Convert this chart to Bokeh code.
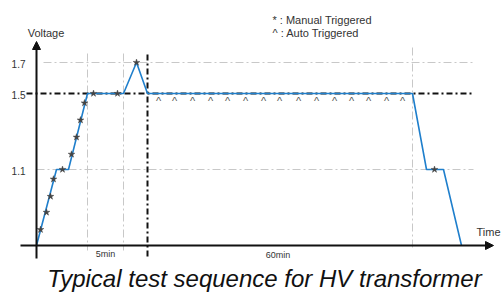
import numpy as np
from bokeh.plotting import figure
from bokeh.models import Range1d, Arrow, NormalHead, ColumnDataSource
from bokeh.core.properties import value
from bokeh.embed import file_html
from bokeh.resources import INLINE

# ---- data (schematic time units, voltage in p.u.) ----
time_profile = [0, 20, 32, 51, 87, 100, 111, 376, 390, 407, 425]
volt_profile = [0, 1.1, 1.1, 1.5, 1.5, 1.7, 1.5, 1.5, 1.1, 1.1, 0]
manual_t = [4, 10, 14, 17, 26, 35, 40, 44, 48, 57, 81, 100, 398]
manual_v = [0.23, 0.48, 0.71, 0.96, 1.1, 1.18, 1.27, 1.36, 1.45, 1.5, 1.5, 1.7, 1.1]
auto_t = [122, 138, 156, 174, 191, 209, 227, 243, 262, 280, 298, 315, 332, 350, 366]
auto_v = [1.5] * 15
y_ticks = [1.1, 1.5, 1.7]
y_tick_labels = ["1.1", "1.5", "1.7"]
span_labels = ["5min", "60min"]
legend_lines = ["* : Manual Triggered", "^ : Auto Triggered"]
title_text = "Typical test sequence for HV transformer"

# schematic (non-linear) voltage scale used by the drawing
V_KNOTS = [0, 1.1, 1.5, 1.7]
Y_KNOTS = [0, 76, 152, 183]


def vy(v):
    return np.interp(v, V_KNOTS, Y_KNOTS)


FONT = "Liberation Sans"

p = figure(width=502, height=293, output_backend="svg", toolbar_location=None,
           x_range=Range1d(-36, 466), y_range=Range1d(-48, 245),
           min_border=0, min_border_left=0, min_border_right=0,
           min_border_top=0, min_border_bottom=0)
p.axis.visible = False
p.grid.visible = False
p.outline_line_color = None
p.background_fill_color = "white"
p.border_fill_color = "white"

t = time_profile
# light grey grid lines (vertical at hold boundaries, horizontal at levels)
gx = [t[3], t[4], t[7]]
p.segment(x0=gx, y0=[192, 192, 198], x1=gx, y1=[-5, -5, -5],
          line_color="#c8c8c8", line_width=1, line_dash="8 3 2 3")
p.segment(x0=[7, 0], y0=[vy(1.7), vy(1.1)], x1=[439, 437], y1=[vy(1.7), vy(1.1)],
          line_color="#c8c8c8", line_width=1, line_dash="8 3 2 3")
# black dash-dot reference lines
p.segment(x0=[-10], y0=[vy(1.5)], x1=[435], y1=[vy(1.5)],
          line_color="#111111", line_width=2, line_dash="6 3 2 3")
p.segment(x0=[t[6]], y0=[191], x1=[t[6]], y1=[-13],
          line_color="#111111", line_width=2, line_dash="6 3 2 3")

# axes with arrows
p.add_layout(Arrow(x_start=0, y_start=-13, x_end=0, y_end=204, line_width=2,
                   line_color="#111111",
                   end=NormalHead(size=8, fill_color="#111111", line_color="#111111")))
p.add_layout(Arrow(x_start=-16, y_start=0, x_end=457, y_end=0, line_width=2,
                   line_color="#111111",
                   end=NormalHead(size=8, fill_color="#111111", line_color="#111111")))

# voltage profile
src = ColumnDataSource(dict(t=time_profile, y=vy(volt_profile)))
p.line("t", "y", source=src, line_color="#1f7fcc", line_width=1.6)

# manual triggered markers
msrc = ColumnDataSource(dict(t=manual_t, y=vy(manual_v)))
p.scatter("t", "y", source=msrc, marker="star", size=7, fill_color="#444444",
          line_color="#444444", line_width=0.5)

# auto triggered markers
asrc = ColumnDataSource(dict(t=auto_t, y=vy(auto_v), s=["^"] * len(auto_t)))
p.text("t", "y", text="s", source=asrc, text_font=value(FONT), text_font_size="11px",
       text_color="#555555", text_align="center", text_baseline="top", y_offset=1)

# y tick labels
p.text(x=[-11] * 3, y=list(vy(y_ticks)), text=y_tick_labels, text_font=value(FONT),
       text_font_size="10px", text_color="#333333", text_align="right",
       text_baseline="middle", y_offset=1)

# axis titles
p.text(x=[9.5], y=[213], text=["Voltage"], text_font=value(FONT), text_font_size="11px",
       text_color="#333333", text_align="center", text_baseline="middle")
p.text(x=[440], y=[14], text=["Time"], text_font=value(FONT), text_font_size="11px",
       text_color="#333333", text_align="left", text_baseline="middle")

# duration labels
p.text(x=[(t[3] + t[4]) / 2, (t[6] + t[7]) / 2 - 2], y=[-8, -9], text=span_labels,
       text_font=value(FONT), text_font_size="9px", text_color="#333333",
       text_align="center", text_baseline="middle")

# legend text
p.text(x=[236, 236], y=[226, 213], text=legend_lines, text_font=value(FONT),
       text_font_size="11px", text_color="#333333", text_align="left",
       text_baseline="middle")

# caption
p.text(x=[228], y=[-33], text=[title_text], text_font=value(FONT), text_font_size="24px",
       text_font_style="italic", text_color="#111111", text_align="center",
       text_baseline="middle")

open("out.html", "w").write(file_html(p, INLINE))
